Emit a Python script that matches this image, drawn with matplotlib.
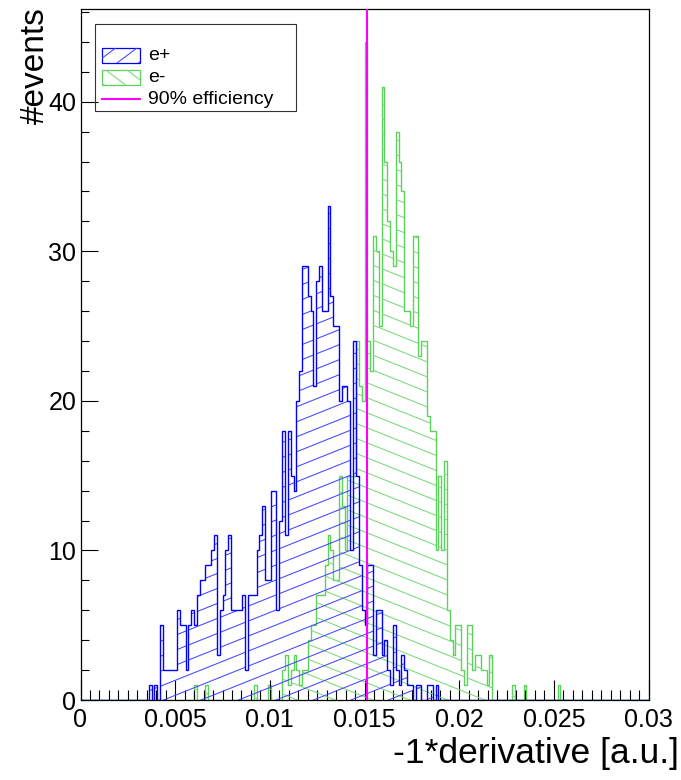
import numpy as np
import matplotlib
matplotlib.use('Agg')
import matplotlib.pyplot as plt
from matplotlib.collections import LineCollection
from matplotlib.patches import Rectangle
from matplotlib.lines import Line2D

plt.rcParams['font.family'] = ['Liberation Sans', 'DejaVu Sans']

# histogram binning: 200 bins between 0 and 0.03
n_bins = 200
x_min, x_max = 0.0, 0.03

# e+ counts, starting at bin 24
e_plus_first = 24
e_plus_counts = [1, 0, 1, 0, 5, 2, 2, 2, 2, 2,
                 6, 5, 5, 2, 5, 6, 5, 7, 8, 8,
                 9, 9, 10, 11, 3, 6, 7, 10, 11, 6,
                 6, 6, 6, 7, 2, 7, 7, 7, 10, 11,
                 13, 8, 8, 14, 14, 6, 12, 18, 11, 18,
                 15, 14, 20, 22, 29, 29, 27, 26, 21, 28,
                 29, 26, 26, 33, 27, 25, 25, 20, 21, 21,
                 20, 10, 24, 15, 9, 6, 5, 9, 9, 3,
                 6, 6, 3, 4, 2, 1, 5, 2, 1, 3,
                 2, 1, 1, 0, 1, 1, 0, 0, 1, 1,
                 0, 1]

# e- counts, starting at bin 40
e_minus_first = 40
e_minus_counts = [1, 0, 0, 0, 1, 0, 0, 0, 0, 0,
                  0, 0, 0, 0, 0, 0, 0, 0, 0, 0,
                  0, 1, 0, 0, 0, 0, 1, 0, 0, 0,
                  0, 2, 3, 1, 2, 3, 2, 1, 2, 2,
                  4, 5, 5, 7, 7, 7, 9, 11, 10, 8,
                  8, 15, 13, 10, 15, 15, 15, 24, 21, 20,
                  44, 24, 22, 31, 30, 25, 41, 36, 32, 30,
                  29, 38, 36, 34, 26, 26, 25, 31, 31, 23,
                  24, 24, 19, 18, 18, 10, 15, 10, 16, 6,
                  4, 3, 5, 5, 2, 1, 5, 5, 2, 3,
                  3, 2, 2, 1, 3, 0, 0, 0, 0, 0,
                  0, 0, 1, 0, 0, 0, 1, 0, 0, 0,
                  0, 0, 0, 0, 0, 0, 0, 0, 1]

cut_value = 0.01515   # 90% efficiency cut

x_ticks = [0, 0.005, 0.01, 0.015, 0.02, 0.025, 0.03]
x_tick_labels = ['0', '0.005', '0.01', '0.015', '0.02', '0.025', '0.03']
y_ticks = [0, 10, 20, 30, 40]
y_tick_labels = ['0', '10', '20', '30', '40']

legend_labels = ['e+', 'e-', '90% efficiency']


def full_hist(first, counts):
    h = np.zeros(n_bins)
    h[first:first + len(counts)] = counts
    return h


W, H = 681, 780
BLUE = '#0000ff'
BLUE_HATCH = '#4646ff'
GREEN = '#5cd25c'
GREEN_HATCH = '#7ada7a'
MAGENTA = '#ff00ff'


def px(x, y):
    """pixel position (from top-left) to figure fraction"""
    return x / W, 1 - y / H


def add_hatch(ax, patch, color, slope, spacing, lw=0.75):
    """
    Draw parallel lines clipped to a patch. slope and spacing in pixels.
    """
    bb = ax.get_position()
    w_px, h_px = bb.width * W, bb.height * H
    k = slope * w_px / h_px
    step = spacing / h_px
    offs = np.arange(-abs(k) - 1, 1 + abs(k) + step, step)
    segs = [[(0, b), (1, b + k)] for b in offs]
    lc = LineCollection(segs, colors=color, linewidths=lw,
                        transform=ax.transAxes)
    ax.add_collection(lc, autolim=False)
    lc.set_clip_path(patch)
    return lc


fig = plt.figure(figsize=(W / 100, H / 100), dpi=100)
ax = fig.add_axes([80.5 / W, 80 / H, 568 / W, 691 / H])

edges = np.linspace(x_min, x_max, n_bins + 1)
h_plus = full_hist(e_plus_first, e_plus_counts)
h_minus = full_hist(e_minus_first, e_minus_counts)

ymax = 1.05 * max(h_plus.max(), h_minus.max())
ax.set_xlim(x_min, x_max)
ax.set_ylim(0, ymax)

# e- first, then e+ on top
area_m = ax.stairs(h_minus, edges, fill=True, facecolor='none',
                   edgecolor='none', baseline=0)
add_hatch(ax, area_m, GREEN_HATCH, -0.4, 15)
ax.stairs(h_minus, edges, color=GREEN, lw=1.0, baseline=0)

area_p = ax.stairs(h_plus, edges, fill=True, facecolor='none',
                   edgecolor='none', baseline=0)
add_hatch(ax, area_p, BLUE_HATCH, 0.4, 15)
ax.stairs(h_plus, edges, color=BLUE, lw=1.0, baseline=0, zorder=3)

ax.axvline(cut_value, color=MAGENTA, lw=1.5, zorder=4)

ax.set_xticks(x_ticks, x_tick_labels)
ax.set_yticks(y_ticks, y_tick_labels)
ax.xaxis.set_minor_locator(matplotlib.ticker.MultipleLocator(0.0005))
ax.yaxis.set_minor_locator(matplotlib.ticker.MultipleLocator(2))
ax.tick_params(axis='x', which='major', direction='in', length=14.4,
               width=0.8, labelsize=18, pad=6)
ax.tick_params(axis='x', which='minor', direction='in', length=7.5,
               width=0.8)
ax.tick_params(axis='y', which='major', direction='in', length=12.2,
               width=0.8, labelsize=18, pad=3)
ax.tick_params(axis='y', which='minor', direction='in', length=6.1,
               width=0.8)
for s in ax.spines.values():
    s.set_linewidth(0.9)

fig.text(*px(35, 7), '#events', rotation=90, ha='center', va='top',
         fontsize=24)
fig.text(*px(679, 754), '-1*derivative [a.u.]', ha='right', va='center',
         fontsize=25.5)

# legend drawn by hand, ROOT style
lax = fig.add_axes([0, 0, 1, 1], facecolor='none')
lax.set_xlim(0, W)
lax.set_ylim(H, 0)
lax.axis('off')
lax.add_patch(Rectangle((95, 24), 201, 87, fill=False, ec='#333333',
                        lw=0.8))
box_b = Rectangle((102, 48), 38, 15, fill=False, ec=BLUE, lw=0.9)
lax.add_patch(box_b)
box_g = Rectangle((102, 70), 38, 15, fill=False, ec=GREEN, lw=0.9)
lax.add_patch(box_g)
add_hatch(lax, box_b, BLUE_HATCH, 0.75, 16)
add_hatch(lax, box_g, GREEN_HATCH, -0.75, 16)
lax.add_line(Line2D([102, 140], [99, 99], color=MAGENTA, lw=1.5))
for lab, yy in zip(legend_labels, [56, 77, 99]):
    lax.text(148, yy, lab, ha='left', va='center', fontsize=14)

fig.savefig('out.png', dpi=100)
